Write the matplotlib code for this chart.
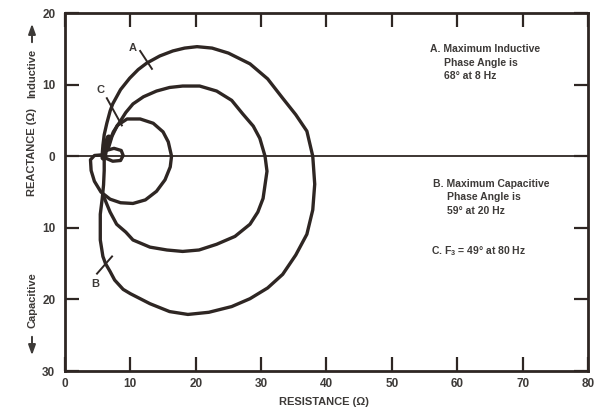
import matplotlib
matplotlib.use("Agg")
from matplotlib import pyplot as plt

plt.rcParams["font.family"] = ["Liberation Sans", "DejaVu Sans"]
plt.rcParams["mathtext.default"] = "regular"

# impedance loops, (resistance, reactance) in ohms, inductive positive
outer_r = [5.7, 5.8, 6.0, 6.4, 6.9, 7.3, 8.5, 9.9, 11.2, 12.5, 14.5, 16.5, 18.3, 20.2,
           22.5, 25.0, 28.3, 31.0, 33.3, 35.3, 37.0, 37.9, 38.2, 37.9, 37.0, 35.3,
           33.3, 31.0, 28.3, 25.5, 22.0, 18.8, 16.0, 13.0, 11.5, 10.0, 8.9, 7.6, 6.9,
           6.2, 5.8, 5.4, 5.4, 5.7, 5.9, 6.0, 6.0]
outer_x = [0.3, 1.5, 3.0, 4.6, 6.3, 7.3, 9.3, 10.9, 12.1, 13.0, 14.0, 14.7, 15.1, 15.3,
           15.1, 14.4, 12.9, 10.8, 8.1, 5.8, 3.5, 0.0, -3.9, -7.5, -10.9, -13.8,
           -16.5, -18.4, -19.9, -21.0, -21.8, -22.1, -21.7, -20.6, -19.9, -19.2, -18.6, -17.3, -16.1,
           -15.0, -14.0, -11.7, -8.1, -5.9, -4.0, -2.0, -0.5]

middle_r = [6.4, 6.8, 7.4, 8.4, 9.3, 10.4, 12.0, 14.0, 16.0, 18.0, 20.6, 23.2, 25.5,
            27.2, 28.8, 29.8, 30.6, 30.9, 30.3, 29.5, 28.3, 26.0, 23.2, 20.5, 18.0,
            15.6, 13.0, 10.4, 9.3, 7.9, 6.9, 6.4, 6.0]
middle_x = [0.8, 2.0, 3.4, 4.8, 6.1, 7.3, 8.3, 9.1, 9.6, 9.8, 9.8, 9.1, 7.8,
            5.9, 4.2, 2.5, 0.0, -2.1, -5.9, -7.8, -9.5, -11.2, -12.3, -13.1, -13.3,
            -13.1, -12.7, -11.7, -10.6, -9.5, -7.8, -6.7, -5.8]

small_r = [6.6, 7.2, 8.0, 9.5, 11.5, 13.5, 15.0, 15.8, 16.3, 16.1, 15.3, 14.0,
           12.3, 10.4, 8.5, 6.9, 5.5, 4.5, 4.0, 3.9, 4.5, 5.8]
small_x = [1.0, 2.8, 4.3, 5.2, 5.2, 4.6, 3.4, 2.0, 0.0, -1.5, -3.3, -4.9,
           -6.1, -6.6, -6.5, -6.0, -5.0, -3.5, -2.0, -0.5, 0.1, 0.2]

tiny_r = [5.9, 6.3, 7.5, 8.6, 8.9, 8.5, 7.3, 6.3, 6.0]
tiny_x = [1.6, 0.8, 1.1, 0.8, 0.1, -0.6, -0.7, -0.3, 0.5]

# dense bundle where the loops leave the origin region
bundle_r = [5.9, 6.1, 6.4, 6.7]
bundle_x = [-0.2, 0.8, 1.8, 2.6]

xticks = [0, 10, 20, 30, 40, 50, 60, 70, 80]
yticks = [20, 10, 0, -10, -20, -30]
ytick_labels = ["20", "10", "0", "10", "20", "30"]

# curve labels: text, label position, leader start, leader end
marker_names = ["A", "B", "C"]
marker_text_pos = [(10.4, 15.1), (4.6, -17.8), (5.4, 9.2)]
marker_leader = [((11.5, 14.7), (13.3, 12.2)),
                 ((4.9, -16.4), (7.2, -14.0)),
                 ((6.4, 8.1), (8.7, 4.3))]

notes = [
    ("A. Maximum Inductive", 55.8, 15.0),
    ("Phase Angle is", 57.95, 13.0),
    ("68° at 8 Hz", 57.95, 11.2),
    ("B. Maximum Capacitive", 56.3, -3.9),
    ("Phase Angle is", 58.4, -5.75),
    ("59° at 20 Hz", 58.4, -7.7),
    ("C. F$_3$ = 49° at 80 Hz", 55.95, -13.2),
]

ink = "#2e2623"
txt = "#3d3a38"

fig = plt.figure(figsize=(6, 4.09), dpi=100)
ax = fig.add_axes([0.1083, 0.0929, 0.8717, 0.8753])

ax.axhline(0, color=ink, lw=1.3, zorder=1)
for r, x in [(outer_r, outer_x), (middle_r, middle_x), (small_r, small_x), (tiny_r, tiny_x)]:
    ax.plot(r, x, color=ink, lw=2.4, solid_joinstyle="round", solid_capstyle="round", zorder=2)
ax.plot(bundle_r, bundle_x, color=ink, lw=4.5, solid_capstyle="round", zorder=2)

for name, pos, (p0, p1) in zip(marker_names, marker_text_pos, marker_leader):
    ax.plot([p0[0], p1[0]], [p0[1], p1[1]], color=ink, lw=1.4, zorder=3)
    ax.text(pos[0], pos[1], name, fontsize=8, fontweight="bold", color=txt,
            ha="center", va="center")

for s, x, y in notes:
    ax.text(x, y, s, fontsize=7.5, fontweight="bold", color=txt, ha="left", va="center")

ax.set_xlim(0, 80)
ax.set_ylim(-30, 20)
ax.set_xticks(xticks)
ax.set_yticks(yticks)
ax.set_yticklabels(ytick_labels)
ax.tick_params(direction="in", length=10, width=1.6, color=ink,
               top=True, right=True, labelsize=8.5, labelcolor=txt)
ax.tick_params(axis="y", pad=7)
ax.tick_params(axis="x", pad=5)
for lab in ax.get_xticklabels() + ax.get_yticklabels():
    lab.set_fontweight("bold")
for sp in ax.spines.values():
    sp.set_linewidth(2.0)
    sp.set_color(ink)

fig.text(324 / 600, 1 - 402 / 409, "RESISTANCE (Ω)", fontsize=8, fontweight="bold",
         color=txt, ha="center", va="center")
fig.text(32 / 600, 1 - 152 / 409, "REACTANCE (Ω)", fontsize=8, fontweight="bold",
         color=txt, ha="center", va="center", rotation=90)
fig.text(32 / 600, 1 - 73 / 409, "Inductive", fontsize=8, fontweight="bold",
         color=txt, ha="center", va="center", rotation=90)
fig.text(32 / 600, 1 - 300 / 409, "Capacitive", fontsize=8, fontweight="bold",
         color=txt, ha="center", va="center", rotation=90)
arrow_style = dict(arrowstyle="-|>,head_length=0.5,head_width=0.18", color=txt, lw=1.4)
fig.add_artist(matplotlib.patches.FancyArrowPatch(
    (32 / 600, 1 - 45 / 409), (32 / 600, 1 - 21 / 409),
    transform=fig.transFigure, mutation_scale=12, **arrow_style))
fig.add_artist(matplotlib.patches.FancyArrowPatch(
    (32 / 600, 1 - 334 / 409), (32 / 600, 1 - 358 / 409),
    transform=fig.transFigure, mutation_scale=12, **arrow_style))

fig.savefig("out.png", dpi=100, facecolor="white")
plt.close(fig)
